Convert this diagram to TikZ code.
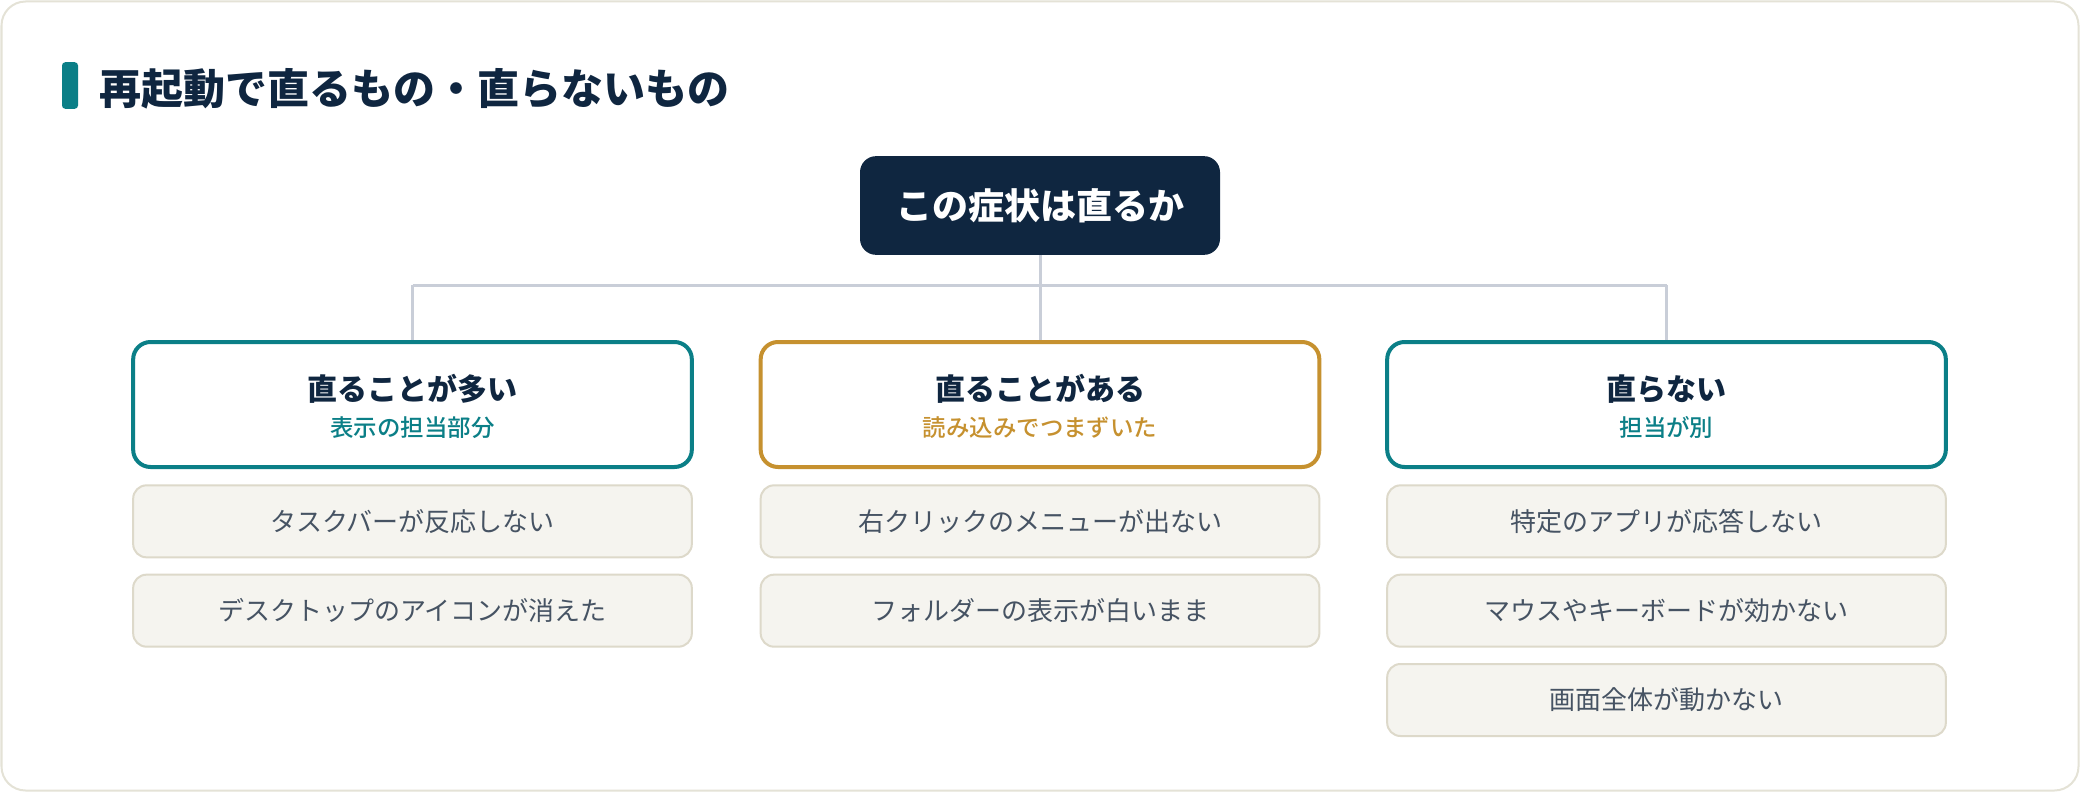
\documentclass[tikz,border=0pt]{standalone}
\usepackage{fontspec}
\setmainfont{Noto Sans CJK JP}
\newfontfamily\medfont{Noto Sans CJK JP Medium}
\newfontfamily\heavyfont{Noto Sans CJK JP Black}
\usetikzlibrary{positioning}
\definecolor{navy}{HTML}{0F2640}
\definecolor{tealc}{HTML}{0B7F87}
\definecolor{goldc}{HTML}{C6912F}
\definecolor{linegrey}{HTML}{C9CED8}
\definecolor{itemfill}{HTML}{F5F4EF}
\definecolor{itemdraw}{HTML}{DDD9CA}
\definecolor{itemtext}{HTML}{465363}
\definecolor{framec}{HTML}{E4E2D6}
\tikzset{
  frame/.style={draw=framec, line width=1.5pt, rounded corners=18pt, fill=white},
  accent/.style={fill=tealc, rounded corners=2.5pt, minimum width=12pt,
                 minimum height=35pt, inner sep=0pt},
  ttl/.style={font=\heavyfont\fontsize{31.5}{37}\selectfont, text=navy, inner sep=0pt},
  topbox/.style={fill=navy, rounded corners=12pt, minimum width=270pt,
                 minimum height=74pt, text=white,
                 font=\fontsize{27}{32}\selectfont\bfseries},
  catbox/.style={draw=#1, line width=3pt, rounded corners=13pt, fill=white,
                 minimum width=419pt, minimum height=93.75pt},
  cattitle/.style={font=\fontsize{22.5}{27}\selectfont\bfseries, text=navy, inner sep=0pt},
  catsub/.style={font=\medfont\fontsize{17.6}{21}\selectfont, text=#1, inner sep=0pt},
  itembox/.style={draw=itemdraw, line width=1.5pt, fill=itemfill, rounded corners=10pt,
                  minimum width=419pt, minimum height=54pt, text=itemtext,
                  font=\fontsize{19.5}{23}\selectfont},
  link/.style={draw=linegrey, line width=2.25pt},
}
\begin{document}
\begin{tikzpicture}[x=0.75pt, y=-0.75pt, node distance=11.5pt]
  \useasboundingbox (0,0) rectangle (2080,792);
  \draw[frame] (1.5,1.5) rectangle (2078.5,790.5);

  % heading
  \node[accent] (bar) at (70,85.5) {};
  \node[ttl, anchor=west] (title) at (99,89) {再起動で直るもの・直らないもの};

  % question
  \node[topbox] (top) at (1040,205.5) {この症状は直るか};
  \coordinate (hub) at (1040,285);

  % categories
  \node[catbox=tealc] (cat1) at (412.5,404.5) {};
  \node[catbox=goldc] (cat2) at (1040,404.5) {};
  \node[catbox=tealc] (cat3) at (1666.5,404.5) {};
  \node[cattitle] (cat1t) at ([yshift=11.5pt]cat1.center) {直ることが多い};
  \node[catsub=tealc] (cat1s) at ([yshift=-17pt]cat1.center) {表示の担当部分};
  \node[cattitle] (cat2t) at ([yshift=11.5pt]cat2.center) {直ることがある};
  \node[catsub=goldc] (cat2s) at ([yshift=-17pt]cat2.center) {読み込みでつまずいた};
  \node[cattitle] (cat3t) at ([yshift=11.5pt]cat3.center) {直らない};
  \node[catsub=tealc] (cat3s) at ([yshift=-17pt]cat3.center) {担当が別};

  \draw[link] (top) -- (hub);
  \draw[link] (hub -| cat1) -- (hub -| cat3);
  \foreach \c in {cat1, cat2, cat3}
    \draw[link] (hub -| \c) -- (\c.north);

  % symptoms
  \node[itembox, below=of cat1] (a1) {タスクバーが反応しない};
  \node[itembox, below=of a1] (a2) {デスクトップのアイコンが消えた};
  \node[itembox, below=of cat2] (b1) {右クリックのメニューが出ない};
  \node[itembox, below=of b1] (b2) {フォルダーの表示が白いまま};
  \node[itembox, below=of cat3] (c1) {特定のアプリが応答しない};
  \node[itembox, below=of c1] (c2) {マウスやキーボードが効かない};
  \node[itembox, below=of c2] (c3) {画面全体が動かない};
\end{tikzpicture}
\end{document}
